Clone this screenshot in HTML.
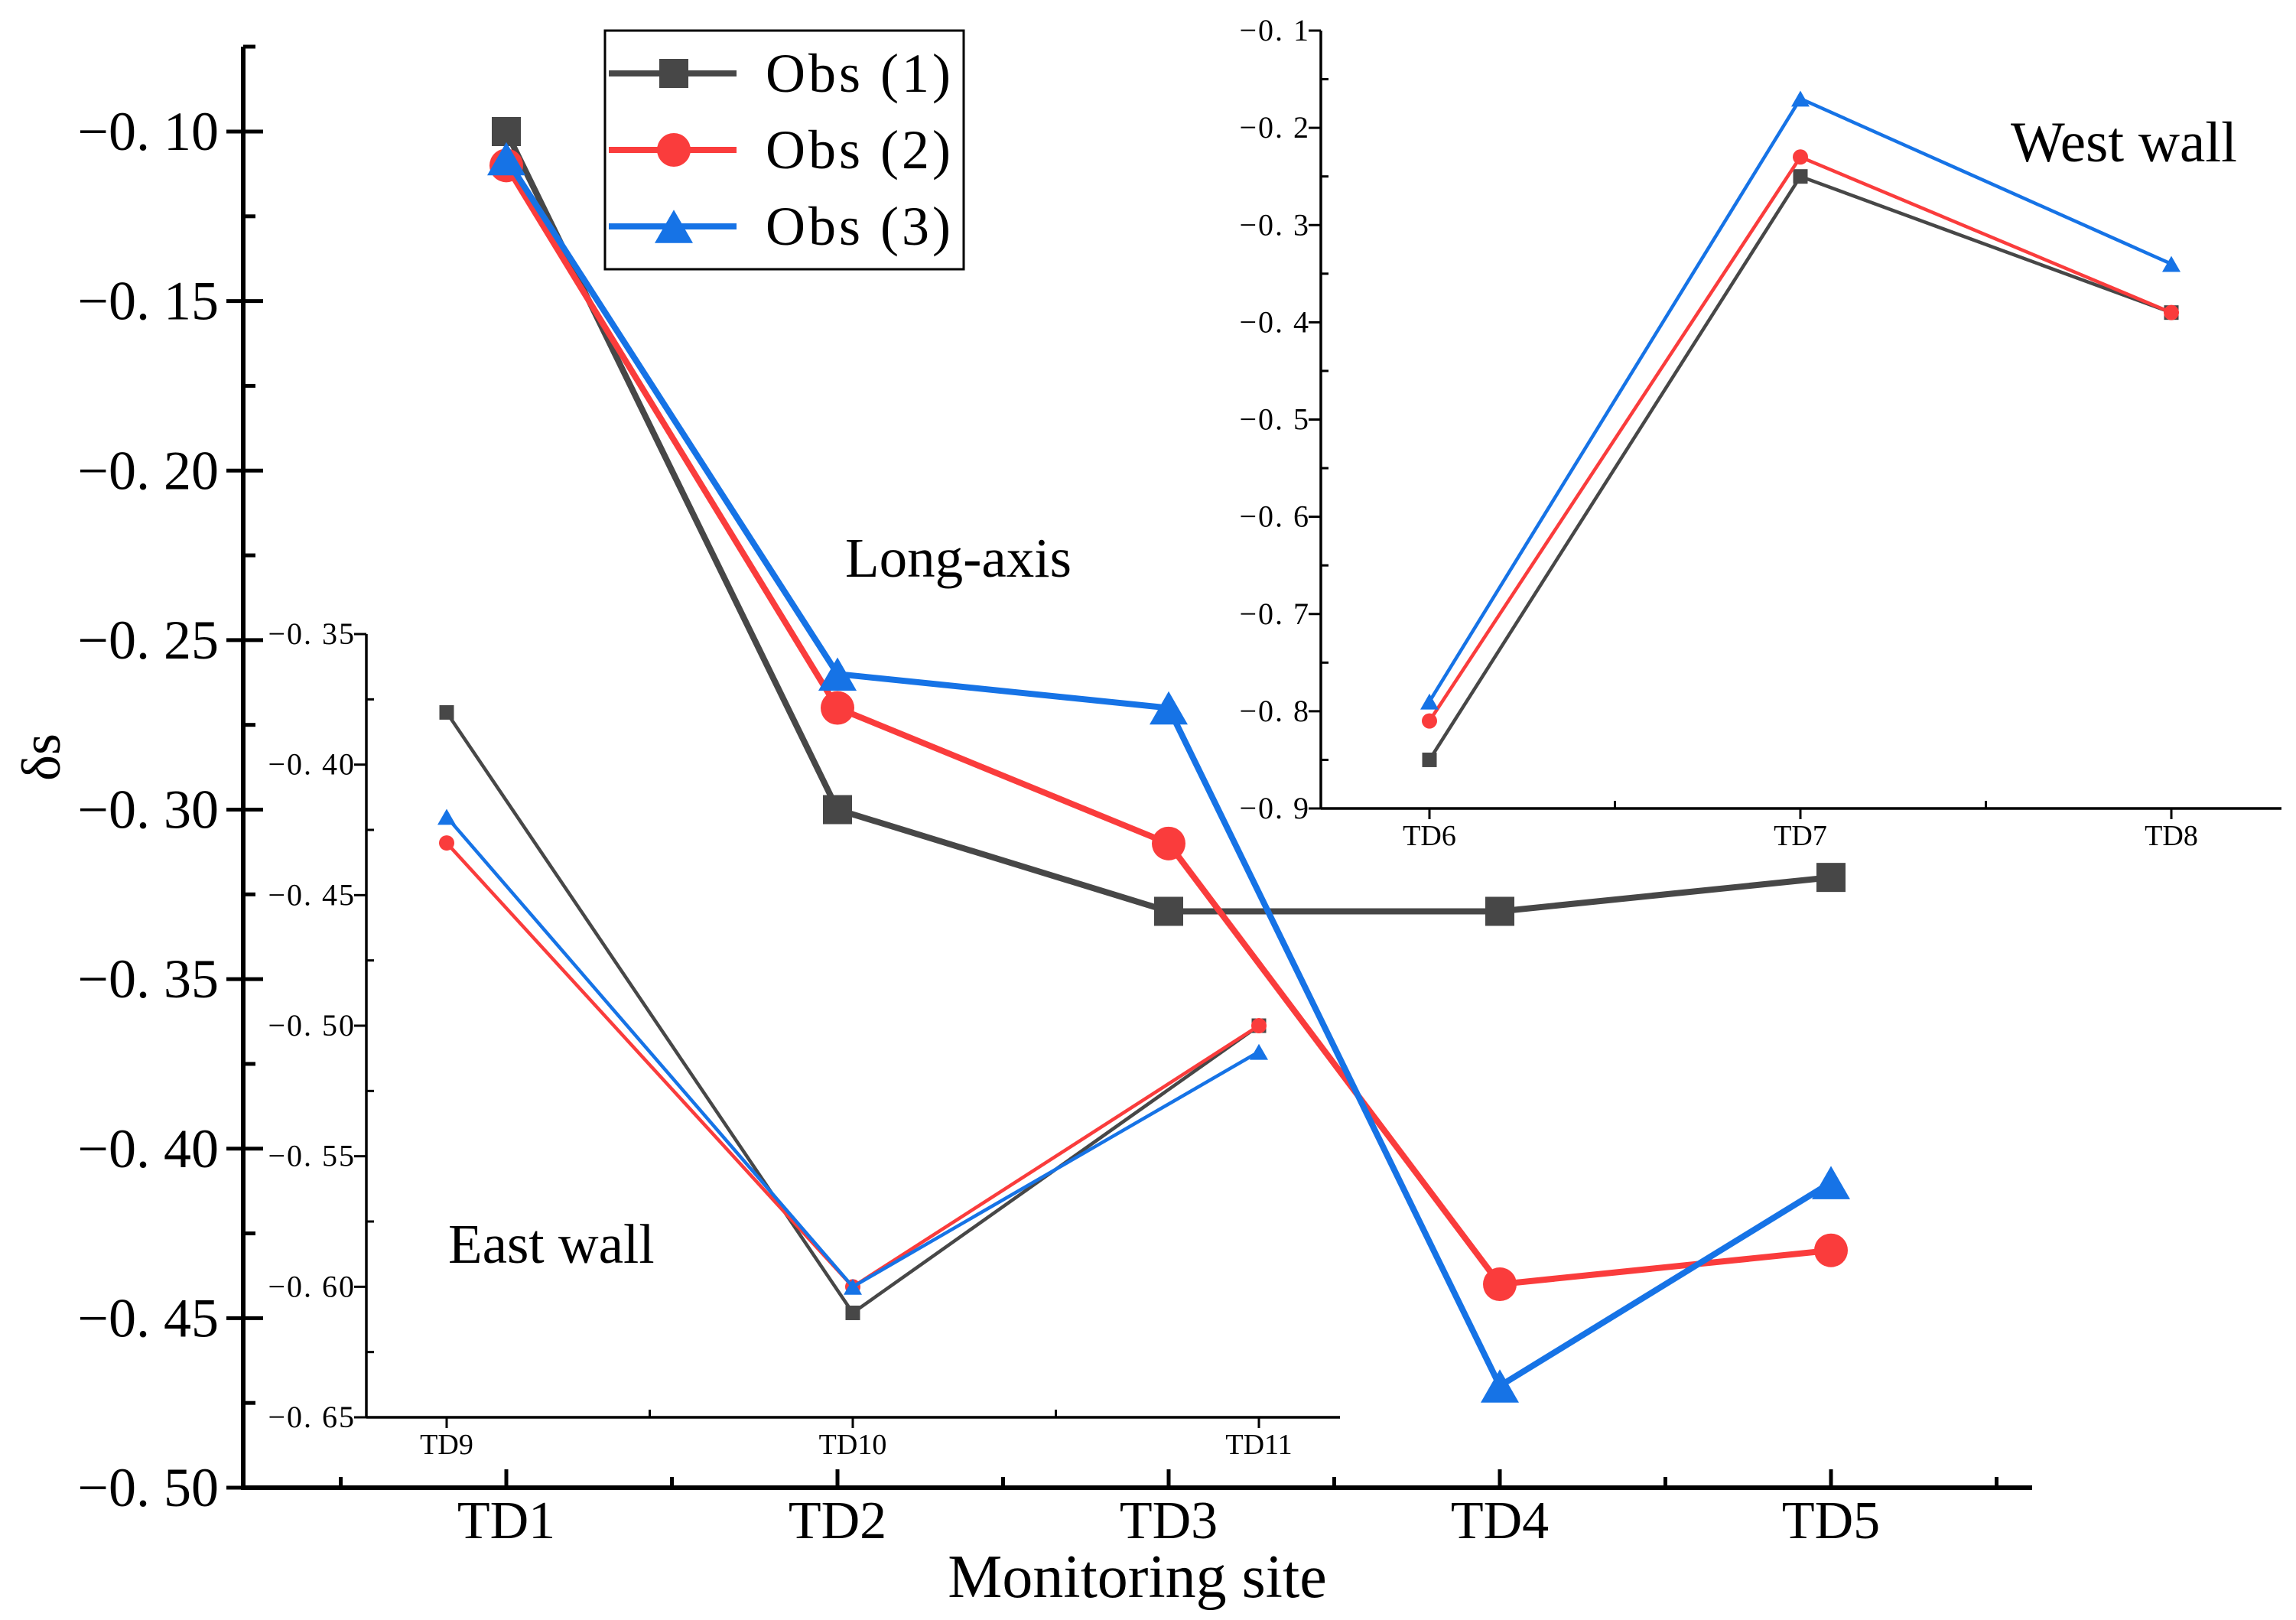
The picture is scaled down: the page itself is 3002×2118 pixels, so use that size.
<!DOCTYPE html>
<html><head><meta charset="utf-8">
<style>
html,body{margin:0;padding:0;background:#fff;}
svg{display:block;}
text{font-family:"Liberation Serif","Noto Serif CJK SC",serif;fill:#000;}
</style></head>
<body>
<svg id="chart" width="3002" height="2118" viewBox="0 0 3002 2118" xmlns="http://www.w3.org/2000/svg"></svg>
<script>
// Main (Long-axis) data
const mainCats = ["TD1","TD2","TD3","TD4","TD5"];
const mainObs1 = [-0.10,-0.30,-0.33,-0.33,-0.32];
const mainObs2 = [-0.11,-0.27,-0.31,-0.44,-0.43];
const mainObs3 = [-0.108,-0.26,-0.27,-0.47,-0.41];
const mainTicks = [-0.10,-0.15,-0.20,-0.25,-0.30,-0.35,-0.40,-0.45,-0.50];
const mainTickLabels = ["−0. 10","−0. 15","−0. 20","−0. 25","−0. 30","−0. 35","−0. 40","−0. 45","−0. 50"];
// East wall data
const eastCats = ["TD9","TD10","TD11"];
const eastObs1 = [-0.38,-0.61,-0.50];
const eastObs2 = [-0.43,-0.60,-0.50];
const eastObs3 = [-0.42,-0.60,-0.51];
const eastTicks = [-0.35,-0.40,-0.45,-0.50,-0.55,-0.60,-0.65];
const eastTickLabels = ["−0. 35","−0. 40","−0. 45","−0. 50","−0. 55","−0. 60","−0. 65"];
// West wall data
const westCats = ["TD6","TD7","TD8"];
const westObs1 = [-0.85,-0.25,-0.39];
const westObs2 = [-0.81,-0.23,-0.39];
const westObs3 = [-0.79,-0.17,-0.34];
const westTicks = [-0.1,-0.2,-0.3,-0.4,-0.5,-0.6,-0.7,-0.8,-0.9];
const westTickLabels = ["−0. 1","−0. 2","−0. 3","−0. 4","−0. 5","−0. 6","−0. 7","−0. 8","−0. 9"];

const C1="#474747", C2="#fa3c3c", C3="#1673e6";
const svg=document.getElementById('chart');
const NS="http://www.w3.org/2000/svg";
function el(tag,attrs,parent){const e=document.createElementNS(NS,tag);for(const k in attrs)e.setAttribute(k,attrs[k]);(parent||svg).appendChild(e);return e;}
function txt(s,x,y,size,anchor,parent){const t=el('text',{x:x,y:y,'font-size':size,'text-anchor':anchor||'start'},parent);t.textContent=s;return t;}
function marker(kind,x,y,s,color,parent){
  if(kind==='sq') return el('rect',{x:x-s/2,y:y-s/2,width:s,height:s,fill:color},parent);
  if(kind==='ci') return el('circle',{cx:x,cy:y,r:s/2,fill:color},parent);
  const h=s*0.87;return el('polygon',{points:`${x-s/2},${y+h/2} ${x+s/2},${y+h/2} ${x},${y-h/2}`,fill:color},parent);
}
function drawSeries(name,cats,vals,xf,yf,color,kind,lw,ms){
  const g=el('g',{});
  
  
  const pts=vals.map((v,i)=>xf(i)+','+yf(v)).join(' ');
  el('polyline',{points:pts,fill:'none',stroke:color,'stroke-width':lw,'stroke-linejoin':'round'},g);
  vals.forEach((v,i)=>{const m=marker(kind,xf(i),yf(v),ms,color,g);
    
    });
}

// ===== Main axes =====
const mX0=318, mTop=61, mBottom=1945, mRight=2657;
const mxf=i=>662+i*433;
const myf=v=>172+(-0.10-v)/0.40*(1945-172);
const mainAxes=el('g',{});


el('line',{x1:mX0,y1:mTop,x2:mX0,y2:mBottom+3,stroke:'#000','stroke-width':6},mainAxes);
el('line',{x1:mX0-3,y1:mBottom,x2:mRight,y2:mBottom,stroke:'#000','stroke-width':6},mainAxes);
mainTicks.forEach((v,i)=>{const y=myf(v);
  el('line',{x1:mX0-22,y1:y,x2:mX0+26,y2:y,stroke:'#000','stroke-width':5},mainAxes);
  const t=txt(mainTickLabels[i],mX0-32,y+24,72,'end',mainAxes);
  
  
  if(i<mainTicks.length-1){const ym=myf(v-0.025);el('line',{x1:mX0,y1:ym,x2:mX0+16,y2:ym,stroke:'#000','stroke-width':5},mainAxes);}
});
el('line',{x1:mX0,y1:mTop,x2:mX0+16,y2:mTop,stroke:'#000','stroke-width':5},mainAxes);
mainCats.forEach((c,i)=>{const x=mxf(i);
  el('line',{x1:x,y1:mBottom-24,x2:x,y2:mBottom,stroke:'#000','stroke-width':5},mainAxes);
  const xm=x-216.5;el('line',{x1:xm,y1:mBottom-14,x2:xm,y2:mBottom,stroke:'#000','stroke-width':5},mainAxes);
  const t=txt(c,x,mBottom+66,70,'middle',mainAxes);
  
  
});
el('line',{x1:mxf(4)+216.5,y1:mBottom-14,x2:mxf(4)+216.5,y2:mBottom,stroke:'#000','stroke-width':5},mainAxes);
const xt=txt('Monitoring site',1487,2088,80,'middle');


const yt=txt('δs',0,0,72,'middle');
yt.setAttribute('transform','translate(78,990) rotate(-90)');


const la=txt('Long-axis',1105,754,73,'start');



drawSeries('main-obs1',mainCats,mainObs1,mxf,myf,C1,'sq',8,38);
drawSeries('main-obs2',mainCats,mainObs2,mxf,myf,C2,'ci',8,44);
drawSeries('main-obs3',mainCats,mainObs3,mxf,myf,C3,'tr',8,50);

// ===== East wall inset =====
const eX0=479,eTop=829,eBottom=1853,eRight=1752;
const exf=i=>584+i*531;
const eyf=v=>eTop+(-0.35-v)/0.30*(eBottom-eTop);
const eAx=el('g',{});


el('line',{x1:eX0,y1:eTop,x2:eX0,y2:eBottom,stroke:'#000','stroke-width':3.5},eAx);
el('line',{x1:eX0,y1:eBottom,x2:eRight,y2:eBottom,stroke:'#000','stroke-width':3.5},eAx);
eastTicks.forEach((v,i)=>{const y=eyf(v);
  el('line',{x1:eX0-16,y1:y,x2:eX0,y2:y,stroke:'#000','stroke-width':3},eAx);
  const t=txt(eastTickLabels[i],eX0-14,y+13,40,'end',eAx);
  t.setAttribute('letter-spacing','2');
  
  
  if(i<eastTicks.length-1){const ym=eyf(v-0.025);el('line',{x1:eX0,y1:ym,x2:eX0+10,y2:ym,stroke:'#000','stroke-width':3},eAx);}
});
eastCats.forEach((c,i)=>{const x=exf(i);
  el('line',{x1:x,y1:eBottom,x2:x,y2:eBottom+14,stroke:'#000','stroke-width':3},eAx);
  if(i<2){const xm=x+265.5;el('line',{x1:xm,y1:eBottom-10,x2:xm,y2:eBottom,stroke:'#000','stroke-width':3},eAx);}
  const t=txt(c,x,eBottom+48,38,'middle',eAx);
  
  
});
const ew=txt('East wall',586,1651,73,'start');


drawSeries('east-obs1',eastCats,eastObs1,exf,eyf,C1,'sq',4.5,19);
drawSeries('east-obs2',eastCats,eastObs2,exf,eyf,C2,'ci',4.5,20);
drawSeries('east-obs3',eastCats,eastObs3,exf,eyf,C3,'tr',4.5,24);

// ===== West wall inset =====
const wX0=1727,wTop=40,wBottom=1057,wRight=2983;
const wxf=i=>1869+i*485;
const wyf=v=>wTop+(-0.1-v)/0.8*(wBottom-wTop);
const wAx=el('g',{});


el('line',{x1:wX0,y1:wTop,x2:wX0,y2:wBottom,stroke:'#000','stroke-width':3.5},wAx);
el('line',{x1:wX0,y1:wBottom,x2:wRight,y2:wBottom,stroke:'#000','stroke-width':3.5},wAx);
westTicks.forEach((v,i)=>{const y=wyf(v);
  el('line',{x1:wX0-16,y1:y,x2:wX0,y2:y,stroke:'#000','stroke-width':3},wAx);
  const t=txt(westTickLabels[i],wX0-14,y+13,40,'end',wAx);
  t.setAttribute('letter-spacing','2');
  
  
  if(i<westTicks.length-1){const ym=wyf(v-0.05);el('line',{x1:wX0,y1:ym,x2:wX0+10,y2:ym,stroke:'#000','stroke-width':3},wAx);}
});
westCats.forEach((c,i)=>{const x=wxf(i);
  el('line',{x1:x,y1:wBottom,x2:x,y2:wBottom+14,stroke:'#000','stroke-width':3},wAx);
  if(i<2){const xm=x+242.5;el('line',{x1:xm,y1:wBottom-10,x2:xm,y2:wBottom,stroke:'#000','stroke-width':3},wAx);}
  const t=txt(c,x,wBottom+48,38,'middle',wAx);
  
  
});
const ww=txt('West wall',2629,211,75,'start');


drawSeries('west-obs1',westCats,westObs1,wxf,wyf,C1,'sq',4.5,19);
drawSeries('west-obs2',westCats,westObs2,wxf,wyf,C2,'ci',4.5,20);
drawSeries('west-obs3',westCats,westObs3,wxf,wyf,C3,'tr',4.5,24);

// ===== Legend =====
const lg=el('g',{});


el('rect',{x:791,y:40,width:469,height:312,fill:'#fff',stroke:'#000','stroke-width':3},lg);
const legNames=["Obs (1)","Obs (2)","Obs (3)"];
const legColors=[C1,C2,C3];
const legKinds=['sq','ci','tr'];
const legSizes=[38,44,50];
legNames.forEach((n,i)=>{const y=96+i*100;
  const e=el('g',{},lg);
  
  
  el('line',{x1:796,y1:y,x2:963,y2:y,stroke:legColors[i],'stroke-width':8},e);
  marker(legKinds[i],881,y,legSizes[i],legColors[i],e);
  const t=txt(n,1001,y+24,72,'start',e);
  t.setAttribute('letter-spacing','4');
});
</script>
</body></html>
